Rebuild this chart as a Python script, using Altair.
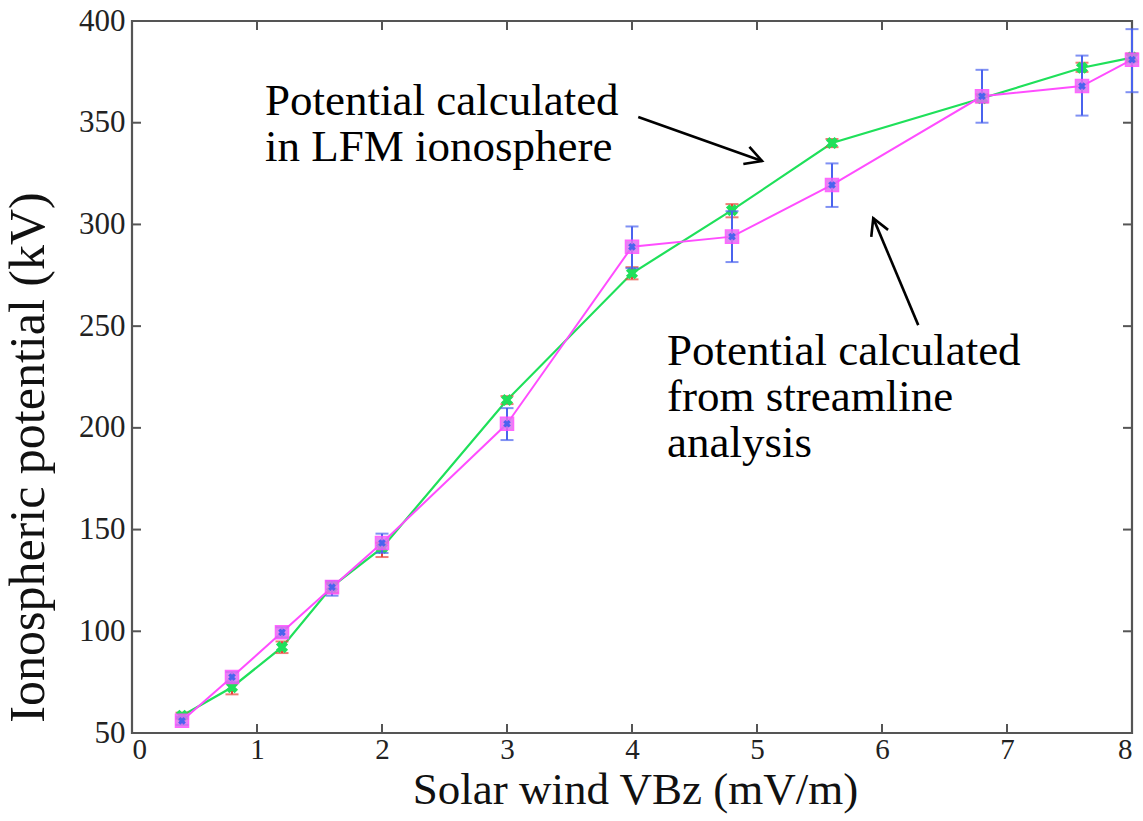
import altair as alt
import pandas as pd

# ---- data ----
vbz = [0.4, 0.8, 1.2, 1.6, 2.0, 3.0, 4.0, 4.8, 5.6, 6.8, 7.6, 8.0]

lfm_val = [58.5, 72.5, 92.2, 122.0, 141.0, 213.7, 276.0, 307.0, 340.0, 362.0, 377.0, 382.0]
lfm_lo = [57.0, 69.0, 89.3, 119.0, 136.5, 211.7, 273.0, 303.5, 338.0, 360.0, 375.0, 380.0]
lfm_hi = [60.0, 74.5, 95.0, 124.0, 143.5, 215.6, 279.0, 310.0, 342.0, 364.0, 379.5, 384.0]

str_val = [56.0, 77.5, 99.5, 121.7, 143.4, 202.0, 289.0, 294.0, 319.4, 363.0, 368.0, 381.0]
str_lo = [54.0, 75.0, 97.0, 117.5, 138.5, 194.0, 278.5, 281.5, 308.6, 350.0, 353.5, 365.0]
str_hi = [58.0, 80.0, 102.0, 124.7, 148.0, 209.7, 299.0, 306.5, 330.0, 376.0, 383.0, 396.0]

x_tick_values = [0, 1, 2, 3, 4, 5, 6, 7, 8]
y_tick_values = [50, 100, 150, 200, 250, 300, 350, 400]
x_inner_ticks = [1, 2, 3, 4, 5, 6, 7]
y_inner_ticks = [100, 150, 200, 250, 300, 350]

label_lfm = "Potential calculated\nin LFM ionosphere"
label_str = "Potential calculated\nfrom streamline\nanalysis"
label_pos_x = [1.064, 4.28]
label_pos_y = [353.8, 230.9]

arrow_x = [4.05, 6.29]
arrow_y = [352.8, 250.5]
arrow_x2 = [5.04, 5.93]
arrow_y2 = [331.2, 303.1]
arrow_angle = [109.5, 337.2]

# ---- tables ----
lfm = pd.DataFrame({"x": vbz, "v": lfm_val, "lo": lfm_lo, "hi": lfm_hi})
stl = pd.DataFrame({"x": vbz, "v": str_val, "lo": str_lo, "hi": str_hi})
labels = pd.DataFrame({"x": label_pos_x, "y": label_pos_y, "t": [label_lfm, label_str]})
arrows = pd.DataFrame({"x": arrow_x, "y": arrow_y, "x2": arrow_x2, "y2": arrow_y2, "a": arrow_angle})
xt = pd.DataFrame({"x": x_inner_ticks})
yt = pd.DataFrame({"y": y_inner_ticks})

FONT = "Liberation Serif"
W, H = 1000, 712

xs = alt.Scale(domain=[0, 8], nice=False, zero=False)
ys = alt.Scale(domain=[50, 400], nice=False, zero=False)

X = alt.X(
    "x:Q", scale=xs,
    axis=alt.Axis(
        values=x_tick_values, format="d", ticks=False, domain=False, grid=False,
        labelFont=FONT, labelFontSize=29, labelColor="#222", labelPadding=2,
        title="Solar wind VBz (mV/m)", titleFont=FONT, titleFontSize=45,
        titleFontWeight="normal", titleColor="#111", titleBaseline="alphabetic",
        titleY=70, titleX=503,
    ),
)
Y = alt.Y(
    "v:Q", scale=ys,
    axis=alt.Axis(
        values=y_tick_values, format="d", ticks=False, domain=False, grid=False,
        labelFont=FONT, labelFontSize=31, labelColor="#222", labelPadding=7,
        title="Ionospheric potential (kV)", titleFont=FONT, titleFontSize=50,
        titleFontWeight="normal", titleColor="#111", titleBaseline="alphabetic",
        titleAngle=-90, titleX=-89, titleY=436, titleAlign="center",
    ),
)

GREEN = "#1fe05a"
MAGENTA = "#ff4dff"
RED = "#e8453a"
BLUE = "#4a63ee"

base_l = alt.Chart(lfm)
base_s = alt.Chart(stl)

line_l = base_l.mark_line(color=GREEN, strokeWidth=2.2).encode(x=X, y=Y)
line_s = base_s.mark_line(color=MAGENTA, strokeWidth=2).encode(x="x:Q", y="v:Q")

err_l = base_l.mark_rule(color=RED, strokeWidth=2).encode(x="x:Q", y="lo:Q", y2="hi:Q")
cap_l_lo = base_l.mark_tick(color=RED, orient="horizontal", size=13, thickness=2).encode(x="x:Q", y="lo:Q")
cap_l_hi = base_l.mark_tick(color=RED, orient="horizontal", size=13, thickness=2).encode(x="x:Q", y="hi:Q")

err_s = base_s.mark_rule(color=BLUE, strokeWidth=2).encode(x="x:Q", y="lo:Q", y2="hi:Q")
cap_s_lo = base_s.mark_tick(color=BLUE, orient="horizontal", size=13, thickness=2).encode(x="x:Q", y="lo:Q")
cap_s_hi = base_s.mark_tick(color=BLUE, orient="horizontal", size=13, thickness=2).encode(x="x:Q", y="hi:Q")

mk_l = base_l.mark_point(shape="cross", angle=45, filled=True, color=GREEN, size=150, opacity=1).encode(x="x:Q", y="v:Q")
mk_s = base_s.mark_square(color="#e070f0", size=170, opacity=0.85, stroke=MAGENTA, strokeWidth=1.5).encode(x="x:Q", y="v:Q")
mk_s_x = base_s.mark_point(shape="cross", angle=45, filled=True, color=BLUE, size=60, opacity=1).encode(x="x:Q", y="v:Q")

txt = alt.Chart(labels).mark_text(
    font=FONT, fontSize=45, align="left", baseline="alphabetic", lineBreak="\n",
    lineHeight=46, color="#000",
).encode(x="x:Q", y="y:Q", text="t:N")

arr_line = alt.Chart(arrows).mark_rule(color="#000", strokeWidth=2.6).encode(
    x="x:Q", y="y:Q", x2="x2:Q", y2="y2:Q")
arr_head = alt.Chart(arrows).mark_point(
    shape="M-0.55,1L0,0L0.55,1", filled=False, color="#000", strokeWidth=2.6,
    size=1100, opacity=1,
).encode(x="x2:Q", y="y2:Q", angle=alt.Angle("a:Q", scale=None))

TK = 9
FRAME = "#555"
tick_b = alt.Chart(xt).mark_rule(color=FRAME, strokeWidth=2).encode(x="x:Q", y=alt.value(H), y2=alt.value(H - TK))
tick_t = alt.Chart(xt).mark_rule(color=FRAME, strokeWidth=2).encode(x="x:Q", y=alt.value(0), y2=alt.value(TK))
tick_l = alt.Chart(yt).mark_rule(color=FRAME, strokeWidth=2).encode(y="y:Q", x=alt.value(0), x2=alt.value(TK))
tick_r = alt.Chart(yt).mark_rule(color=FRAME, strokeWidth=2).encode(y="y:Q", x=alt.value(W), x2=alt.value(W - TK))

chart = alt.layer(
    line_l, line_s,
    err_l, cap_l_lo, cap_l_hi,
    mk_l,
    err_s, cap_s_lo, cap_s_hi,
    mk_s, mk_s_x,
    txt, arr_line, arr_head,
    tick_b, tick_t, tick_l, tick_r,
).properties(
    width=W, height=H,
    autosize=alt.AutoSizeParams(type="none"),
    padding={"left": 132, "top": 21, "right": 11, "bottom": 88},
    background="white",
).configure_view(
    stroke=FRAME, strokeWidth=2.2,
)

chart.save("out.html", embed_options={"renderer": "svg", "actions": False})
